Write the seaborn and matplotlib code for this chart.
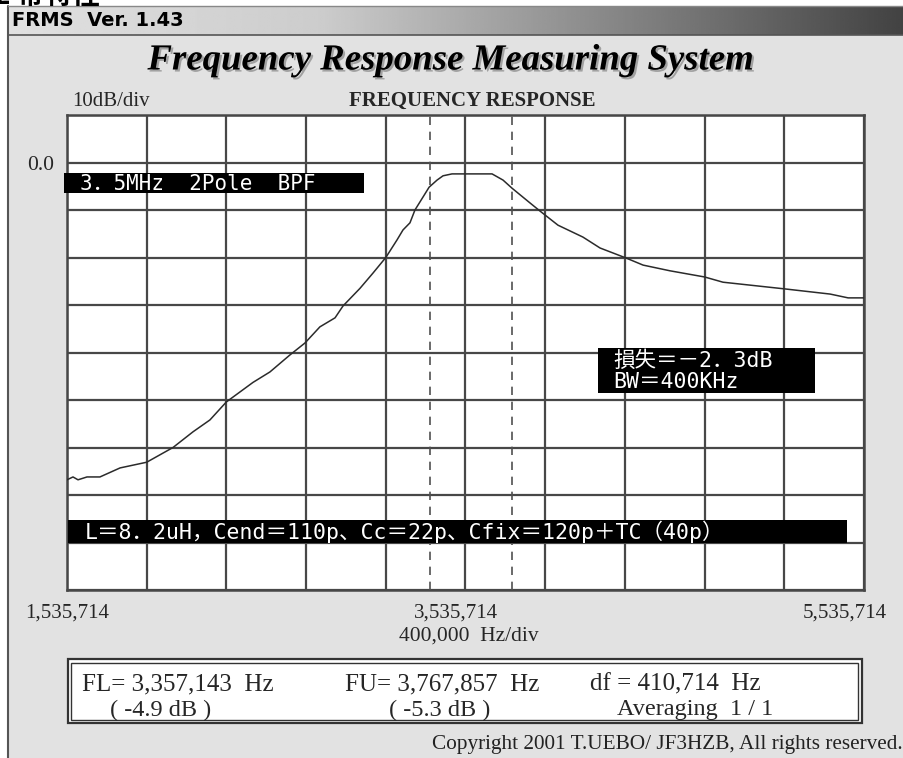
import numpy as np
import pandas as pd
import matplotlib
matplotlib.use("Agg")
import matplotlib.pyplot as plt
import matplotlib.patheffects as pe
from matplotlib.patches import Rectangle
from matplotlib.transforms import ScaledTranslation
import seaborn as sns

# ---------------- data ----------------
freq_hz = [1535714, 1565800, 1591000, 1636000, 1701000, 1802000, 1935714, 2067700,
           2168000, 2253000, 2335714, 2469000, 2554000, 2655000, 2730000, 2805000,
           2881000, 2921000, 3006000, 3071000, 3135714, 3192000, 3222000, 3257000,
           3282000, 3322000, 3353000, 3393000, 3423000, 3468000, 3669000, 3724000,
           3769000, 3859000, 3909000, 4000000, 4125000, 4211000, 4341000, 4427000,
           4562000, 4735714, 4828000, 5135714, 5366000, 5456000, 5535714]
level_db = [-66.8, -66.2, -66.8, -66.2, -66.2, -64.3, -63.1, -60.0,
            -56.7, -54.2, -50.4, -46.3, -44.1, -40.5, -38.0, -34.6,
            -32.7, -30.2, -26.5, -23.3, -20.0, -16.3, -14.2, -12.7,
            -10.0, -7.3, -5.2, -3.7, -2.8, -2.4, -2.4, -3.7,
            -5.4, -8.5, -10.2, -13.2, -15.7, -18.0, -20.1, -21.6,
            -22.8, -24.1, -25.2, -26.6, -27.7, -28.5, -28.5]

x_start_hz = 1535714
x_step_hz = 400000
x_divisions = 10
x_tick_labels = ["1,535,714", "", "", "", "", "3,535,714", "", "", "", "", "5,535,714"]
y_ticks_db = [-90, -80, -70, -60, -50, -40, -30, -20, -10, 0, 10]
y_tick_labels = ["", "", "", "", "", "", "", "", "", "0.0", ""]
marker_freqs_hz = [3357143, 3767857]

title_text = "Frequency Response Measuring System"
window_title = "FRMS  Ver. 1.43"
label_bpf = "3．5MHz  2Pole  BPF"
label_loss_1 = "損失＝－2．3dB"
label_loss_2 = "BW＝400KHz"
label_parts = "L＝8．2uH，Cend＝110p、Cc＝22p、Cfix＝120p＋TC（40p）"
info_row1 = ["FL= 3,357,143  Hz", "FU= 3,767,857  Hz", "df = 410,714  Hz"]
info_row2 = ["( -4.9 dB )", "( -5.3 dB )", "Averaging  1 / 1"]
copyright_text = "Copyright 2001 T.UEBO/ JF3HZB, All rights reserved."

# ---------------- figure ----------------
sns.set_theme(style="white")
W, H = 904, 758
fig = plt.figure(figsize=(W / 100, H / 100), dpi=100)
fig.patch.set_facecolor("white")

SERIF = ["Liberation Serif", "DejaVu Serif"]
JP = ["Noto Sans CJK JP", "DejaVu Sans"]
MONO = ["DejaVu Sans Mono", "Noto Sans CJK JP"]
BG = "#e2e2e2"
GRID = "#474747"

# background layer in pixel coordinates
bg = fig.add_axes([0, 0, 1, 1], zorder=0)
bg.set_xlim(0, W)
bg.set_ylim(H, 0)
bg.axis("off")
bg.add_patch(Rectangle((8, 35), W - 8, H - 35, facecolor=BG, edgecolor="none"))
gx = np.linspace(0, 1, 400)
gval = np.interp(gx, [0, 0.35, 1.0], [0.88, 0.80, 0.26])
bg.imshow(np.tile(gval, (2, 1)), cmap="gray", vmin=0, vmax=1, aspect="auto",
          extent=(8, W, 35, 6), interpolation="bilinear")
bg.plot([8, 8], [6, H], color="#555555", lw=1.5)
bg.plot([8, W], [35, 35], color="#555555", lw=1.2)
bg.plot([8, W], [6, 6], color="#888888", lw=1.0)
bg.set_xlim(0, W)
bg.set_ylim(H, 0)
bg.text(12, 21, window_title, fontsize=14, fontweight="bold",
        family=["DejaVu Sans"], va="center", ha="left", color="black")
bg.text(-6, -4, "2 帯特性", fontsize=20, fontweight="bold", family=JP,
        va="center", ha="left", color="black")

bg.text(450, 60, title_text, fontsize=26.5, fontweight="bold", fontstyle="italic",
        family=SERIF, ha="center", va="center", color="black",
        path_effects=[pe.SimplePatchShadow(offset=(1.5, -1.5), shadow_rgbFace="#9a9a9a", alpha=0.9),
                      pe.Normal()])
bg.text(72, 101, "10dB/div", fontsize=15, family=SERIF, ha="left", va="center")
bg.text(472, 101, "FREQUENCY RESPONSE", fontsize=15, fontweight="bold",
        family=SERIF, ha="center", va="center")
bg.text(469, 636, "400,000  Hz/div", fontsize=15.5, family=SERIF, ha="center", va="center")
bg.text(903, 745, copyright_text, fontsize=15.3, family=SERIF, ha="right", va="center",
        color="#222222")

# ---------------- main plot ----------------
L, T, R, B = 67, 115, 864, 590
ax = fig.add_axes([L / W, 1 - B / H, (R - L) / W, (B - T) / H], zorder=1)
ax.set_facecolor("white")
df = pd.DataFrame({"Frequency (Hz)": freq_hz, "Level (dB)": level_db})
sns.lineplot(data=df, x="Frequency (Hz)", y="Level (dB)", ax=ax,
             color="#2b2b2b", linewidth=1.1, zorder=5)
for f in marker_freqs_hz:
    ax.axvline(f, color="#505050", lw=1.2, ls=(0, (5, 4)), zorder=4)

x_ticks = [x_start_hz + x_step_hz * i for i in range(x_divisions + 1)]
ax.set_xlim(x_ticks[0], x_ticks[-1])
ax.set_ylim(y_ticks_db[0], y_ticks_db[-1])
ax.set_xticks(x_ticks)
ax.set_xticklabels(x_tick_labels, fontsize=15, family=SERIF)
ax.set_yticks(y_ticks_db)
ax.set_yticklabels(y_tick_labels, fontsize=15.5, family=SERIF)
ax.tick_params(axis="x", length=0, pad=10)
ax.tick_params(axis="y", length=0, pad=9)
# the reference labels sit slightly left of their gridlines
label_shift_px = {0: 0, 5: -9, 10: -19}
for i, lab in enumerate(ax.get_xticklabels()):
    dx = label_shift_px.get(i, 0)
    lab.set_transform(lab.get_transform() + ScaledTranslation(dx / 100, 0, fig.dpi_scale_trans))
ax.grid(True, color=GRID, lw=1.6)
ax.set_axisbelow(True)
ax.set_xlabel("")
ax.set_ylabel("")
for s in ax.spines.values():
    s.set_color(GRID)
    s.set_linewidth(1.8)

# ---------------- overlay labels ----------------
ov = fig.add_axes([0, 0, 1, 1], zorder=2)
ov.patch.set_alpha(0)
ov.set_xlim(0, W)
ov.set_ylim(H, 0)
ov.axis("off")

ov.add_patch(Rectangle((64, 173), 300, 20, facecolor="black", edgecolor="none"))
ov.text(80, 183.5, label_bpf, color="white", fontsize=15, family=MONO, ha="left", va="center")

ov.add_patch(Rectangle((598, 348), 217, 45, facecolor="black", edgecolor="none"))
ov.text(613, 361, label_loss_1, color="white", fontsize=15.5, family=MONO, ha="left", va="center")
ov.text(613, 382, label_loss_2, color="white", fontsize=15.5, family=MONO, ha="left", va="center")

ov.add_patch(Rectangle((68, 520), 779, 23, facecolor="black", edgecolor="none"))
ov.text(85, 531.5, label_parts, color="white", fontsize=15.5, family=MONO, ha="left", va="center")

# info box
ov.add_patch(Rectangle((68, 659), 794, 64, facecolor="white", edgecolor="#333333", lw=1.6))
ov.add_patch(Rectangle((71.5, 662.5), 787, 57, facecolor="none", edgecolor="#333333", lw=1.0))
for xpos, s in zip([82, 345, 590], info_row1):
    ov.text(xpos, 684, s, fontsize=18, family=SERIF, ha="left", va="center")
for xpos, s in zip([161, 440, 695], info_row2):
    ov.text(xpos, 710, s, fontsize=17.5, family=SERIF, ha="center", va="center")

fig.savefig("out.png", dpi=100, facecolor=fig.get_facecolor())
